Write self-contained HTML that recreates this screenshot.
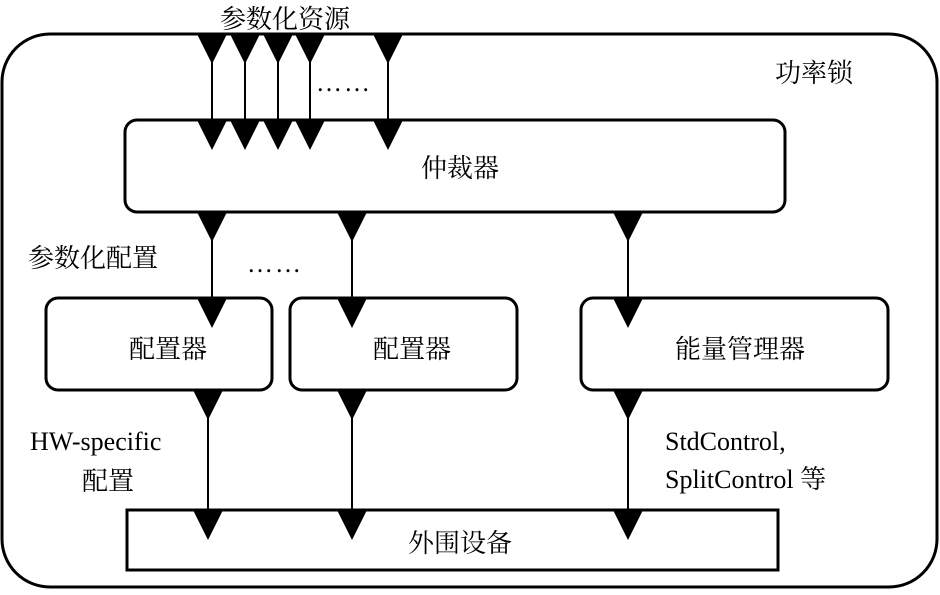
<!DOCTYPE html>
<html><head><meta charset="utf-8"><style>
html,body{margin:0;padding:0;background:#fff;}
svg text{font-family:"Liberation Serif","Noto Serif CJK SC",serif;font-size:26px;fill:#000;}
</style></head><body>
<svg width="940" height="590" viewBox="0 0 940 590" xmlns="http://www.w3.org/2000/svg">
<defs><path id="t" d="M-15,0 L15,0 L0,30 Z" fill="#000"/></defs>
<rect x="2" y="34" width="935" height="553" rx="48" fill="none" stroke="#000" stroke-width="3"/>
<rect x="125" y="120" width="660" height="92" rx="12" fill="#fff" stroke="#000" stroke-width="3"/>
<rect x="46" y="298" width="226" height="92" rx="12" fill="#fff" stroke="#000" stroke-width="3"/>
<rect x="290" y="298" width="227" height="92" rx="12" fill="#fff" stroke="#000" stroke-width="3"/>
<rect x="581" y="298" width="307" height="92" rx="12" fill="#fff" stroke="#000" stroke-width="3"/>
<rect x="127" y="510" width="651" height="60" fill="#fff" stroke="#000" stroke-width="3"/>
<g stroke="#000" stroke-width="2">
<line x1="212" y1="34" x2="212" y2="120"/><line x1="245" y1="34" x2="245" y2="120"/>
<line x1="278" y1="34" x2="278" y2="120"/><line x1="310" y1="34" x2="310" y2="120"/>
<line x1="388" y1="34" x2="388" y2="120"/>
<line x1="212" y1="212" x2="212" y2="298"/><line x1="352" y1="212" x2="352" y2="298"/>
<line x1="628" y1="212" x2="628" y2="298"/>
<line x1="208" y1="390" x2="208" y2="510"/><line x1="352" y1="390" x2="352" y2="510"/>
<line x1="628" y1="390" x2="628" y2="510"/>
</g>
<g>
<use href="#t" x="212" y="34"/><use href="#t" x="245" y="34"/><use href="#t" x="278" y="34"/><use href="#t" x="310" y="34"/><use href="#t" x="388" y="34"/>
<use href="#t" x="212" y="120"/><use href="#t" x="245" y="120"/><use href="#t" x="278" y="120"/><use href="#t" x="310" y="120"/><use href="#t" x="388" y="120"/>
<use href="#t" x="212" y="212"/><use href="#t" x="352" y="212"/><use href="#t" x="628" y="212"/>
<use href="#t" x="212" y="298"/><use href="#t" x="352" y="298"/><use href="#t" x="628" y="298"/>
<use href="#t" x="208" y="390"/><use href="#t" x="352" y="390"/><use href="#t" x="628" y="390"/>
<use href="#t" x="208" y="510"/><use href="#t" x="352" y="510"/><use href="#t" x="628" y="510"/>
</g>
<text x="220" y="28">参数化资源</text>
<text x="316" y="91" style="letter-spacing:2px">……</text>
<text x="775" y="82">功率锁</text>
<text x="460" y="177" text-anchor="middle">仲裁器</text>
<text x="28" y="267">参数化配置</text>
<text x="247" y="272" style="letter-spacing:2px">……</text>
<text x="168" y="358" text-anchor="middle">配置器</text>
<text x="412" y="358" text-anchor="middle">配置器</text>
<text x="740" y="358" text-anchor="middle">能量管理器</text>
<text x="30" y="450">HW-specific</text>
<text x="82" y="490">配置</text>
<text x="665" y="450">StdControl,</text>
<text x="665" y="488">SplitControl 等</text>
<text x="460" y="552" text-anchor="middle">外围设备</text>
</svg>
</body></html>
